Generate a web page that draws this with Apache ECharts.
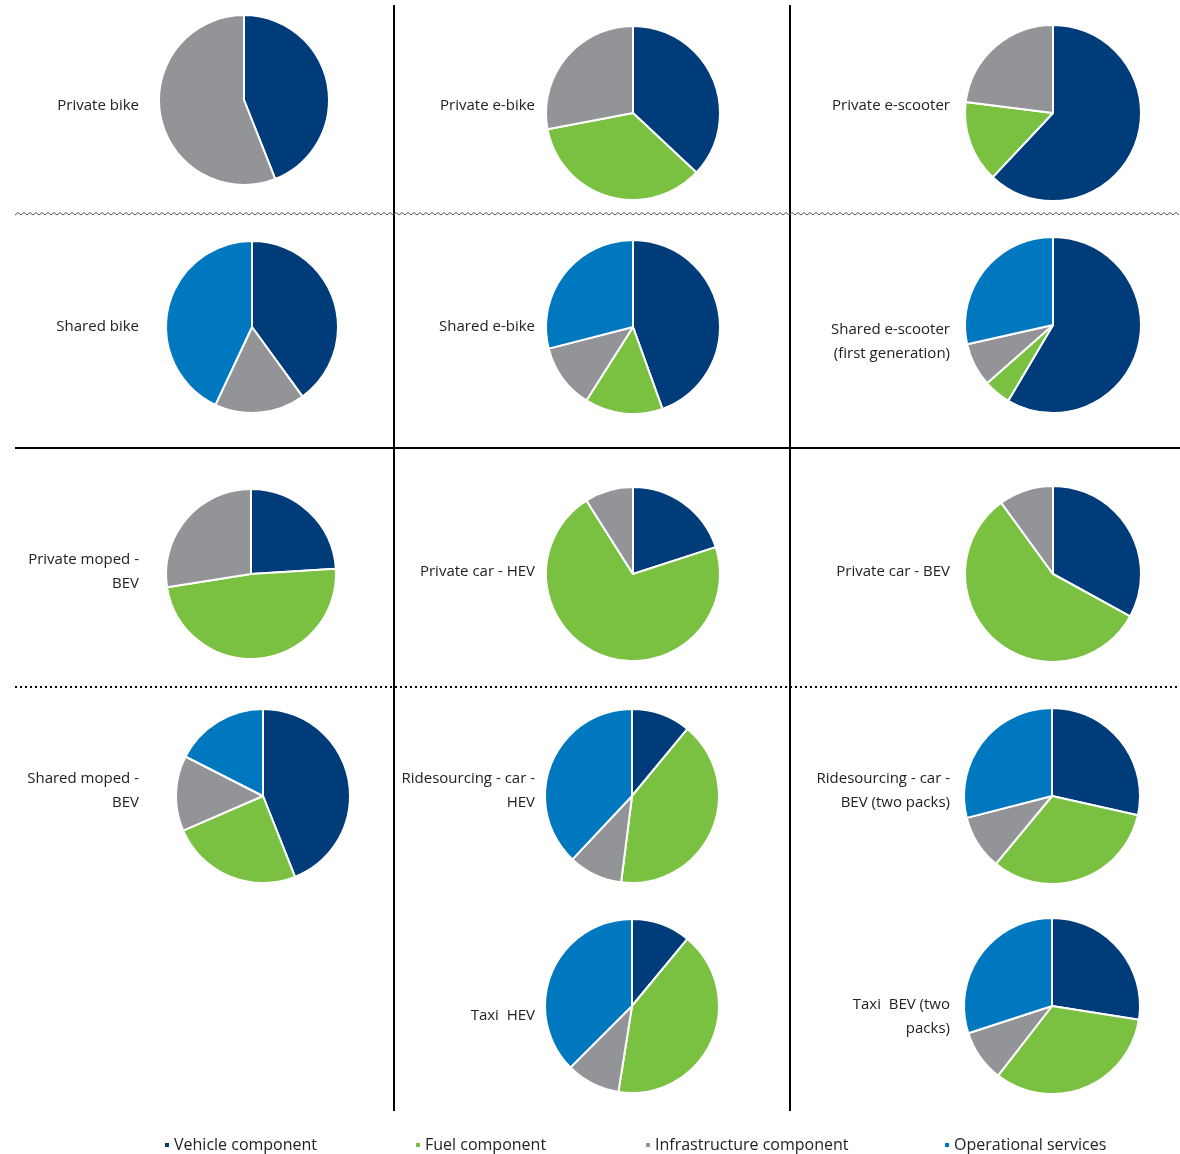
<!DOCTYPE html>
<html>
<head>
<meta charset="utf-8">
<style>
  html, body { margin: 0; padding: 0; background: #ffffff; }
  #chart { width: 1180px; height: 1154px; }
</style>
<script src="https://cdn.jsdelivr.net/npm/echarts@6/dist/echarts.min.js"></script>
</head>
<body>
<div id="chart"></div>
<script>
// Cost components per mode, share of total cost (%)
const categories = ['Vehicle component', 'Fuel component', 'Infrastructure component', 'Operational services'];
const modes = [
  'Private bike', 'Private e-bike', 'Private e-scooter',
  'Shared bike', 'Shared e-bike', 'Shared e-scooter\n(first generation)',
  'Private moped -\nBEV', 'Private car - HEV', 'Private car - BEV',
  'Shared moped -\nBEV', 'Ridesourcing - car -\nHEV', 'Ridesourcing - car -\nBEV (two packs)',
  'Taxi  HEV', 'Taxi  BEV (two\npacks)'
];
const vehicle = [44, 37, 62, 40, 44.5, 58.5, 24, 20, 33, 44, 11, 28.5, 11, 27.5];
const fuel    = [0, 35, 15, 0, 14.5, 5, 48.5, 71, 57, 24.5, 41, 32.5, 41.5, 33];
const infra   = [56, 28, 23, 17, 12, 8, 27.5, 9, 10, 14, 10, 10, 10, 9.5];
const ops     = [0, 0, 0, 43, 29, 28.5, 0, 0, 0, 17.5, 38, 29, 37.5, 30];

const colors = ['#003b7a', '#7ac142', '#929497', '#0078c0'];

// Panel geometry: pie centre, radius, right edge of the caption, caption centre y
const layout = [
  { c: [244, 100], r: 85, tx: 139, ty: 106 },
  { c: [633, 113], r: 87, tx: 535, ty: 106 },
  { c: [1053, 113], r: 88, tx: 950, ty: 106 },
  { c: [252, 327], r: 86, tx: 139, ty: 327 },
  { c: [633, 327], r: 87, tx: 535, ty: 327 },
  { c: [1053, 325], r: 88, tx: 950, ty: 342 },
  { c: [251, 574], r: 85, tx: 139, ty: 572 },
  { c: [633, 574], r: 87, tx: 535, ty: 572 },
  { c: [1053, 574], r: 88, tx: 950, ty: 572 },
  { c: [263, 796], r: 87, tx: 139, ty: 791 },
  { c: [632, 796], r: 87, tx: 535, ty: 791 },
  { c: [1052, 796], r: 88, tx: 950, ty: 791 },
  { c: [632, 1006], r: 87, tx: 535, ty: 1016 },
  { c: [1052, 1006], r: 88, tx: 950, ty: 1017 }
];

const FONT = '"Open Sans", Lato, sans-serif';
const values = [vehicle, fuel, infra, ops];

const series = modes.map(function (m, i) {
  const data = [];
  categories.forEach(function (cat, k) {
    if (values[k][i] > 0) {
      data.push({ name: cat, value: values[k][i], itemStyle: { color: colors[k] } });
    }
  });
  return {
    type: 'pie',
    name: m,
    center: layout[i].c,
    radius: [0, layout[i].r],
    startAngle: 90,
    clockwise: true,
    silent: true,
    label: { show: false },
    labelLine: { show: false },
    itemStyle: { borderColor: '#ffffff', borderWidth: 2 },
    data: data
  };
});

// Captions beside each pie
const graphics = modes.map(function (m, i) {
  return {
    type: 'text',
    x: layout[i].tx,
    y: layout[i].ty,
    style: {
      text: m,
      fill: '#222222',
      font: '15px ' + FONT,
      align: 'right',
      verticalAlign: 'middle',
      lineHeight: 24
    }
  };
});

// Panel separators
graphics.push(
  { type: 'line', shape: { x1: 394, y1: 5, x2: 394, y2: 1111 }, style: { stroke: '#000', lineWidth: 2 } },
  { type: 'line', shape: { x1: 790, y1: 5, x2: 790, y2: 1111 }, style: { stroke: '#000', lineWidth: 2 } },
  { type: 'line', shape: { x1: 15, y1: 448, x2: 1180, y2: 448 }, style: { stroke: '#000', lineWidth: 2 } },
  { type: 'line', shape: { x1: 15, y1: 687, x2: 1180, y2: 687 }, style: { stroke: '#000', lineWidth: 2, lineDash: [2, 3] } }
);
// Wavy separator below the first row
const wave = [];
for (let x = 15, k = 0; x <= 1180; x += 3, k++) wave.push([x, k % 2 ? 212.5 : 215]);
graphics.push({ type: 'polyline', shape: { points: wave }, style: { stroke: '#555', lineWidth: 1, fill: null } });

// One legend block per component, spread along the bottom
const legendLeft = [158, 409, 639, 938];
const legends = categories.map(function (cat, k) {
  return {
    data: [{ name: cat, itemStyle: { color: colors[k] } }],
    left: legendLeft[k],
    top: 1132,
    icon: 'rect',
    itemWidth: 6,
    itemHeight: 6,
    itemGap: 4,
    selectedMode: false,
    textStyle: { fontFamily: FONT, fontSize: 16, color: '#222222', padding: [0, 0, 0, -1] }
  };
});

const chart = echarts.init(document.getElementById('chart'));
chart.setOption({
  animation: false,
  legend: legends,
  graphic: graphics,
  series: series
});
</script>
</body>
</html>
